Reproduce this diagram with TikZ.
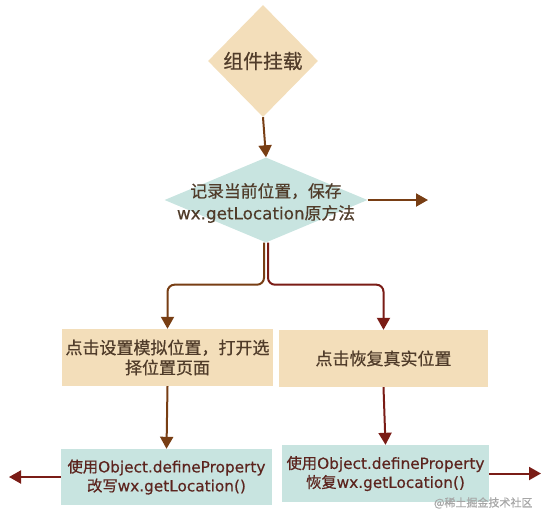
\documentclass[tikz,border=0pt]{standalone}
\usepackage{fontspec}
\setmainfont{DejaVu Sans}[FakeBold=0.4]
\newfontfamily\cjk{Noto Sans CJK SC}[FakeBold=0.6]
\usetikzlibrary{arrows.meta, shapes.geometric}
\usepackage{xcolor}
\definecolor{meubege}{RGB}{243, 222, 186}
\definecolor{meumenta}{RGB}{200, 228, 224}
\definecolor{meumarrom}{RGB}{120, 62, 20}
\definecolor{meuvinho}{RGB}{122, 28, 22}
\definecolor{meutexto}{RGB}{80, 60, 42}
\definecolor{meutextovinho}{RGB}{92, 36, 30}

\begin{document}
\begin{tikzpicture}[
    x=1pt, y=-1pt,
    every node/.style={font=\fontsize{15.3}{19}\selectfont},
    seta/.style={-{Triangle[length=12pt,width=13pt]}, line width=2pt}
]

\useasboundingbox (0,0) rectangle (549,523);

% ------------------------------------------------
% Losangos
% ------------------------------------------------

\node[
    diamond,
    fill=meubege,
    minimum width=110pt,
    minimum height=112pt,
    inner sep=0pt
] (montagem) at (263,61)
{};

\node[
    text=meutexto,
    font=\cjk\fontsize{19.8}{22}\selectfont
] (montagemtexto) at (montagem)
{组件挂载};

\node[
    diamond,
    fill=meumenta,
    minimum width=203pt,
    minimum height=85pt,
    inner sep=0pt
] (registro) at (266,200)
{};

\node[
    align=center,
    text=meutexto,
    font=\fontsize{16.8}{22}\selectfont
] (registrotexto) at (266,203)
{{\cjk 记录当前位置，保存}\\wx.getLocation{\cjk 原方法}};

% ------------------------------------------------
% Caixas
% ------------------------------------------------

\node[
    rectangle,
    fill=meubege,
    minimum width=209pt,
    minimum height=57pt,
    align=center,
    text=meutexto,
    font=\cjk\fontsize{17}{20}\selectfont
] (simular) at (167.5,357.5)
{点击设置模拟位置，打开选\\择位置页面};

\node[
    rectangle,
    fill=meubege,
    minimum width=209pt,
    minimum height=57pt,
    text=meutexto,
    font=\cjk\fontsize{17}{20}\selectfont
] (restaurar) at (383.5,358.5)
{点击恢复真实位置};

\node[
    rectangle,
    fill=meumenta,
    minimum width=211pt,
    minimum height=56pt,
    align=center,
    text=meutextovinho
] (reescrever) at (166.5,477)
{{\cjk 使用}Object.defineProperty\\{\cjk 改写}wx.getLocation()};

\node[
    rectangle,
    fill=meumenta,
    minimum width=207pt,
    minimum height=57pt,
    align=center,
    text=meutextovinho
] (recuperar) at (385.5,473.5)
{{\cjk 使用}Object.defineProperty\\{\cjk 恢复}wx.getLocation()};

\node[
    anchor=east,
    text=black!35,
    font=\cjk\fontsize{11}{13}\selectfont
] (marca) at (536,503)
{@稀土掘金技术社区};

% ------------------------------------------------
% Setas
% ------------------------------------------------

\coordinate (saidadireita) at (428,200);
\coordinate (saidaesquerda) at (9,477);
\coordinate (saidafinal) at (541,473.5);

\draw[seta, meumarrom] (montagem.south) -- (registro.north);
\draw[seta, meumarrom] (registro.east) -- (saidadireita);

\draw[seta, meumarrom, rounded corners=7pt]
    ([xshift=-2pt]registro.south) -- ++(0,42) -| (simular.north);
\draw[seta, meuvinho, rounded corners=7pt]
    ([xshift=2pt]registro.south) -- ++(0,42) -| (restaurar.north);

\draw[seta, meumarrom] (simular.south) -- (reescrever.north);
\draw[seta, meuvinho] (restaurar.south) -- (recuperar.north);

\draw[seta, meuvinho] (reescrever.west) -- (saidaesquerda);
\draw[seta, meuvinho] (recuperar.east) -- (saidafinal);

\end{tikzpicture}
\end{document}
